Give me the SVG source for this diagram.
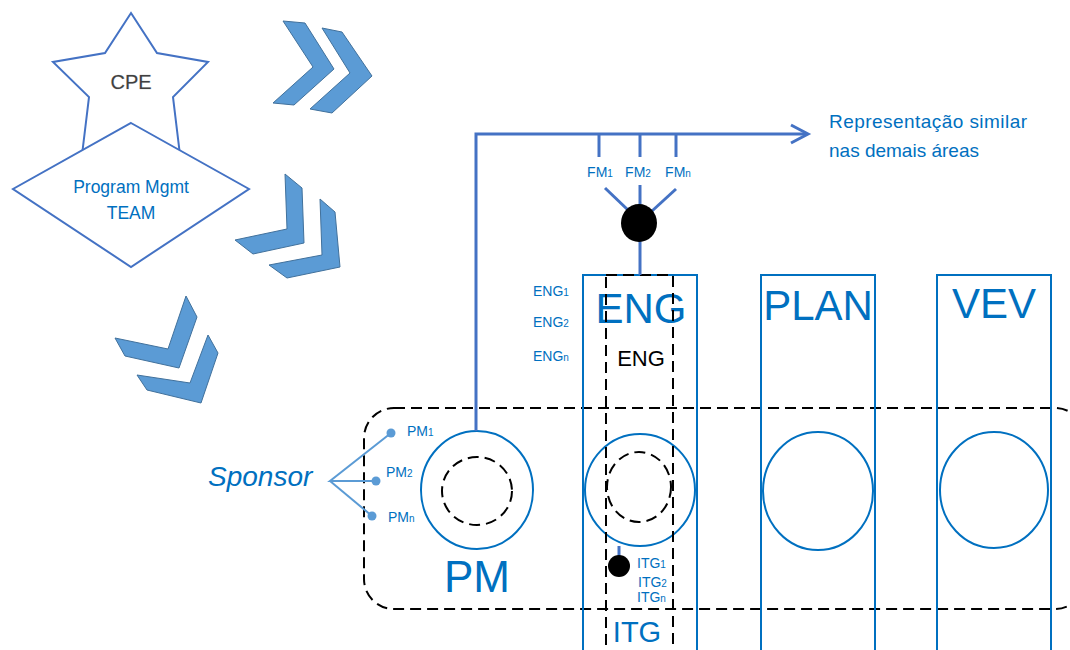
<svg xmlns="http://www.w3.org/2000/svg" width="1070" height="650" viewBox="0 0 1070 650">
<style>
.chev{fill:#5B9BD5;stroke:#41719C;stroke-width:1;stroke-linejoin:round}
.shape{fill:#fff;stroke:#4472C4;stroke-width:2}
.box{fill:none;stroke:#0070C0;stroke-width:2}
.dash{fill:none;stroke:#000;stroke-width:2;stroke-dasharray:11 6}
.conn{fill:none;stroke:#4472C4;stroke-width:3}
.spon{fill:none;stroke:#5B9BD5;stroke-width:2}
.t{font-family:"Liberation Sans",Arial,sans-serif;fill:#0070C0}
.s{font-size:14px}
.sub{font-size:10px}
.big{font-size:42px;text-anchor:middle}
</style>
<rect width="1070" height="650" fill="#fff"/>
<g id="chevrons">
<polygon class="chev" points="283,21 305,23 334,69 294,105 273,103 313,67"/>
<polygon class="chev" points="322,28 342,32 372,76 332,113 310,109 350,73"/>
<polygon class="chev" points="285,174 302,188 304,243 253,254 235,240 287,229"/>
<polygon class="chev" points="320,199 335,212 340,267 287,278 269,265 322,255"/>
<polygon class="chev" points="186,296 197,317 179,368 125,356 115,338 168,349"/>
<polygon class="chev" points="208,335 218,353 201,403 147,390 137,375 190,383"/>
</g>
<g id="cpe">
<polygon class="shape" points="131,13 157,53 208,62 173,97 180,155 131,125 82,155 89,97 53,62 105,53"/>
<text x="131" y="89" text-anchor="middle" font-family="Liberation Sans,Arial,sans-serif" font-size="20" fill="#404040" stroke="#c8c8c8" stroke-width="0.6" paint-order="stroke">CPE</text>
</g>
<g id="pmteam">
<polygon class="shape" points="131,123 249,189 131,267 13,189"/>
<text class="t" x="131" y="193" text-anchor="middle" font-size="17.5">Program Mgmt</text>
<text class="t" x="131" y="219" text-anchor="middle" font-size="17.5">TEAM</text>
</g>
<g id="frame">
<rect class="dash" x="364" y="408" width="721" height="201" rx="30"/>
</g>
<g id="eng">
<rect class="box" x="583" y="275" width="114" height="390"/>
<text class="t big" x="641" y="323">ENG</text>
<ellipse class="box" cx="640" cy="490" rx="55" ry="56"/>
<ellipse class="dash" cx="639" cy="487" rx="32" ry="35"/>
<text class="t s" x="533" y="296">ENG<tspan class="sub">1</tspan></text>
<text class="t s" x="533" y="327">ENG<tspan class="sub">2</tspan></text>
<text class="t s" x="533" y="361">ENG<tspan class="sub">n</tspan></text>
</g>
<g id="itg">
<rect class="dash" x="606" y="275" width="67" height="390"/>
<text x="641" y="366" text-anchor="middle" font-family="Liberation Sans,Arial,sans-serif" font-size="22" fill="#000">ENG</text>
<text class="t" x="637" y="642" text-anchor="middle" font-size="29">ITG</text>
<text class="t s" x="637" y="568">ITG<tspan class="sub">1</tspan></text>
<text class="t s" x="638" y="587">ITG<tspan class="sub">2</tspan></text>
<text class="t s" x="637" y="602">ITG<tspan class="sub">n</tspan></text>
</g>
<g id="plan">
<rect class="box" x="761" y="275" width="114" height="390"/>
<text class="t big" x="818" y="320">PLAN</text>
<ellipse class="box" cx="818" cy="491" rx="55" ry="59"/>
</g>
<g id="vev">
<rect class="box" x="937" y="275" width="114" height="390"/>
<text class="t big" x="994" y="318">VEV</text>
<ellipse class="box" cx="994" cy="490" rx="54" ry="58"/>
</g>
<g id="pm">
<ellipse class="box" cx="477" cy="490" rx="56" ry="59"/>
<ellipse class="dash" cx="477" cy="491" rx="35" ry="34"/>
<text class="t" x="477" y="592" text-anchor="middle" font-size="44">PM</text>
<text class="t s" x="407" y="436">PM<tspan class="sub">1</tspan></text>
<text class="t s" x="386" y="477">PM<tspan class="sub">2</tspan></text>
<text class="t s" x="388" y="522">PM<tspan class="sub">n</tspan></text>
</g>
<g id="sponsor">
<text class="t" x="208" y="486" font-size="28" font-style="italic">Sponsor</text>
</g>
<g id="note">
<text class="t" x="829" y="128" font-size="19" textLength="198">Representação similar</text>
<text class="t" x="829" y="157" font-size="19">nas demais áreas</text>
</g>
<g id="fm">
<text class="t s" x="600" y="177" text-anchor="middle">FM<tspan class="sub">1</tspan></text>
<text class="t s" x="638" y="177" text-anchor="middle">FM<tspan class="sub">2</tspan></text>
<text class="t s" x="678" y="177" text-anchor="middle">FM<tspan class="sub">n</tspan></text>
</g>
<g id="connectors">
<polyline class="conn" points="476,431 476,134 807,134"/>
<polyline class="conn" points="791,125 808,134 791,143" stroke-linejoin="miter"/>
<line class="conn" x1="599" y1="134" x2="599" y2="157"/>
<line class="conn" x1="640" y1="134" x2="640" y2="157"/>
<line class="conn" x1="676" y1="134" x2="676" y2="157"/>
<line class="conn" x1="605" y1="188" x2="628" y2="210"/>
<line class="conn" x1="640" y1="185" x2="640" y2="205"/>
<line class="conn" x1="676" y1="189" x2="652" y2="211"/>
<line class="conn" x1="640" y1="240" x2="640" y2="275"/>
<ellipse cx="639" cy="223" rx="18" ry="19" fill="#000"/>
<line class="conn" x1="619" y1="546" x2="619" y2="558"/>
<circle cx="619" cy="566" r="11" fill="#000"/>
<polyline class="spon" points="391,433 330,481 376,481"/>
<line class="spon" x1="330" y1="481" x2="372" y2="516"/>
<circle cx="391" cy="433" r="4.5" fill="#5B9BD5"/>
<circle cx="376" cy="481" r="4.5" fill="#5B9BD5"/>
<circle cx="372" cy="516" r="4.5" fill="#5B9BD5"/>
</g>
</svg>
